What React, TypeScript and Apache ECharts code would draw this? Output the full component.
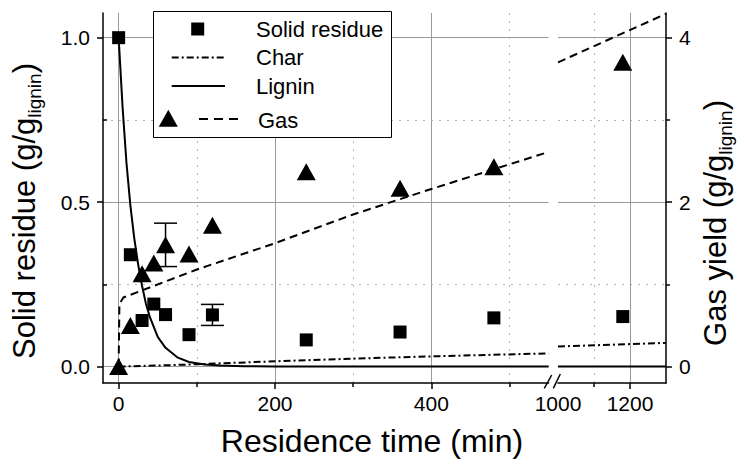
import React, { useEffect, useRef } from 'react';
import * as echarts from 'echarts';

// ---- measured points (residence time in min) ----
const sampleTimes = [0, 15, 30, 45, 60, 90, 120, 240, 360, 480];
const residueValues = [1.0, 0.34, 0.14, 0.19, 0.158, 0.097, 0.157, 0.081, 0.105, 0.148];
const gasValues = [0, 0.5, 1.13, 1.26, 1.48, 1.37, 1.72, 2.37, 2.17, 2.43];
const lateTimes = [1180];
const lateResidue = [0.152];
const lateGas = [3.7];

// ---- error bars ----
const residueErrTimes = [120];
const residueErrCenters = [0.157];
const residueErrs = [0.032];
const gasErrTimes = [60];
const gasErrCenters = [1.48];
const gasErrs = [0.264];

// ---- model curves ----
const ligninTimes = [0, 5, 10, 15, 20, 25, 30, 35, 40, 50, 60, 75, 90, 110, 130, 160, 200, 300, 550];
const ligninValues = [1.0, 0.79, 0.62, 0.49, 0.39, 0.31, 0.245, 0.19, 0.15, 0.09, 0.057, 0.028, 0.014, 0.006, 0.003, 0.001, 0, 0, 0];
const ligninLateTimes = [1000, 1300];
const ligninLateValues = [0, 0];

const charTimes = [0, 50, 100, 200, 300, 400, 550];
const charValues = [0, 0.003, 0.007, 0.016, 0.024, 0.031, 0.04];
const charLateTimes = [1000, 1300];
const charLateValues = [0.061, 0.072];

const gasModelTimes = [0, 1, 6, 100, 200, 300, 400, 550];
const gasModelValues = [0, 0.76, 0.84, 1.18, 1.5, 1.85, 2.16, 2.61];
const gasModelLateTimes = [1000, 1300];
const gasModelLateValues = [3.7, 4.29];

// ---- ticks ----
const xMajorA = [0, 200, 400];
const xMinorA = [100, 300, 500];
const xLabelsB = [1000, 1200];
const xMajorB = [1200];
const xMinorB = [1100];
const yMajor = [0, 0.5, 1];
const yMinor = [0.25, 0.75];
const gasMajor = [0, 2, 4];
const gasMinor = [1, 3];

const FONT = 'Liberation Sans, Arial, Helvetica, sans-serif';
const GRID_SOLID = '#9a9a9a';
const GRID_DOT = '#b4b4b4';

const zip = (a: number[], b: number[]) => a.map((v, i) => [v, b[i]]);
const zip3 = (a: number[], b: number[], c: number[]) => a.map((v, i) => [v, b[i], c[i]]);

const hiddenAxis = (extra: any) => ({
  type: 'value',
  axisLine: { show: false, onZero: false },
  axisTick: { show: false },
  axisLabel: { show: false },
  splitLine: { show: false },
  ...extra,
});

const solidSplit = { show: true, lineStyle: { color: GRID_SOLID, width: 1 } };
const dotSplit = { show: true, lineStyle: { color: GRID_DOT, width: 1, type: [2, 6] } };
const axisLineStyle = { show: true, onZero: false, lineStyle: { color: '#000', width: 1.5 } };
const labelStyle = { color: '#000', fontSize: 21, fontFamily: FONT };

const errorBarRender = (params: any, api: any) => {
  const x = api.value(0);
  const y = api.value(1);
  const e = api.value(2);
  const top = api.coord([x, y + e]);
  const bot = api.coord([x, y - e]);
  const hw = 11.5;
  const st = { stroke: '#000', lineWidth: 1.5 };
  return {
    type: 'group',
    children: [
      { type: 'line', shape: { x1: top[0], y1: top[1], x2: bot[0], y2: bot[1] }, style: st },
      { type: 'line', shape: { x1: top[0] - hw, y1: top[1], x2: top[0] + hw, y2: top[1] }, style: st },
      { type: 'line', shape: { x1: bot[0] - hw, y1: bot[1], x2: bot[0] + hw, y2: bot[1] }, style: st },
    ],
  };
};

export default function App() {
  const ref = useRef<HTMLDivElement>(null);

  useEffect(() => {
    if (!ref.current) return;
    const chart = echarts.init(ref.current, undefined, { renderer: 'svg' });

    const titleRich = {
      m: { fontSize: 31, fontFamily: FONT, fill: '#000', color: '#000' },
      s: { fontSize: 19, fontFamily: FONT, fill: '#000', color: '#000', padding: [20, 0, 0, 0] },
    };

    const option: any = {
      animation: false,
      backgroundColor: '#fff',
      grid: [
        { left: 103, top: 13, width: 445.6, height: 370, outerBoundsMode: 'none', containLabel: false },
        { left: 558, top: 13, width: 108, height: 370, outerBoundsMode: 'none', containLabel: false },
      ],
      xAxis: [
        {
          type: 'value', gridIndex: 0, min: -20, max: 550, position: 'bottom',
          axisLine: axisLineStyle,
          axisTick: { show: true, customValues: xMajorA, length: 6, lineStyle: { color: '#000', width: 1.5 } },
          axisLabel: { show: true, customValues: xMajorA, margin: 10, formatter: (v: number) => String(v), ...labelStyle },
          splitLine: solidSplit,
        },
        hiddenAxis({
          gridIndex: 0, min: -20, max: 550, position: 'bottom',
          axisTick: { show: true, customValues: xMinorA, length: 4, lineStyle: { color: '#000', width: 1.5 } },
          splitLine: dotSplit,
        }),
        {
          type: 'value', gridIndex: 1, min: 1000, max: 1300, position: 'bottom',
          axisLine: axisLineStyle,
          axisTick: { show: true, customValues: xMajorB, length: 6, lineStyle: { color: '#000', width: 1.5 } },
          axisLabel: { show: true, customValues: xLabelsB, margin: 10, formatter: (v: number) => String(v), ...labelStyle },
          splitLine: solidSplit,
        },
        hiddenAxis({
          gridIndex: 1, min: 1000, max: 1300, position: 'bottom',
          axisTick: { show: true, customValues: xMinorB, length: 4, lineStyle: { color: '#000', width: 1.5 } },
          splitLine: dotSplit,
        }),
      ],
      yAxis: [
        {
          type: 'value', gridIndex: 0, min: -0.05, max: 1.075, position: 'left',
          axisLine: axisLineStyle,
          axisTick: { show: true, customValues: yMajor, length: 6, lineStyle: { color: '#000', width: 1.5 } },
          axisLabel: { show: true, customValues: yMajor, margin: 13, formatter: (v: number) => v.toFixed(1), ...labelStyle },
          splitLine: solidSplit,
        },
        hiddenAxis({
          gridIndex: 0, min: -0.05, max: 1.075, position: 'left',
          axisTick: { show: true, inside: true, customValues: yMinor, length: 4, lineStyle: { color: '#000', width: 1.5 } },
          splitLine: dotSplit,
        }),
        hiddenAxis({ gridIndex: 0, min: -0.2, max: 4.3, position: 'right' }),
        hiddenAxis({
          gridIndex: 1, min: -0.05, max: 1.075, position: 'left',
          axisTick: { show: false, customValues: yMajor },
          splitLine: solidSplit,
        }),
        hiddenAxis({
          gridIndex: 1, min: -0.05, max: 1.075, position: 'left',
          axisTick: { show: false, customValues: yMinor },
          splitLine: dotSplit,
        }),
        {
          type: 'value', gridIndex: 1, min: -0.2, max: 4.3, position: 'right',
          axisLine: axisLineStyle,
          axisTick: { show: true, customValues: gasMajor, length: 6, lineStyle: { color: '#000', width: 1.5 } },
          axisLabel: { show: true, customValues: gasMajor, margin: 13, ...labelStyle },
          splitLine: { show: false },
        },
        hiddenAxis({
          gridIndex: 1, min: -0.2, max: 4.3, position: 'right',
          axisTick: { show: true, customValues: gasMinor, length: 4, lineStyle: { color: '#000', width: 1.5 } },
        }),
      ],
      series: [
        {
          type: 'custom', name: 'residue error', xAxisIndex: 0, yAxisIndex: 0, z: 3,
          renderItem: errorBarRender, encode: { x: 0, y: 1 },
          data: zip3(residueErrTimes, residueErrCenters, residueErrs),
        },
        {
          type: 'custom', name: 'gas error', xAxisIndex: 0, yAxisIndex: 2, z: 3,
          renderItem: errorBarRender, encode: { x: 0, y: 1 },
          data: zip3(gasErrTimes, gasErrCenters, gasErrs),
        },
        {
          type: 'line', name: 'Lignin', xAxisIndex: 0, yAxisIndex: 0, symbol: 'none', z: 4,
          lineStyle: { color: '#000', width: 2 }, data: zip(ligninTimes, ligninValues),
        },
        {
          type: 'line', name: 'Lignin', xAxisIndex: 2, yAxisIndex: 3, symbol: 'none', z: 4,
          lineStyle: { color: '#000', width: 2 }, data: zip(ligninLateTimes, ligninLateValues),
        },
        {
          type: 'line', name: 'Char', xAxisIndex: 0, yAxisIndex: 0, symbol: 'none', z: 4,
          lineStyle: { color: '#000', width: 2, type: [7, 3, 2, 3] }, data: zip(charTimes, charValues),
        },
        {
          type: 'line', name: 'Char', xAxisIndex: 2, yAxisIndex: 3, symbol: 'none', z: 4,
          lineStyle: { color: '#000', width: 2, type: [7, 3, 2, 3] }, data: zip(charLateTimes, charLateValues),
        },
        {
          type: 'line', name: 'Gas', xAxisIndex: 0, yAxisIndex: 2, symbol: 'none', z: 4,
          lineStyle: { color: '#000', width: 2, type: [8, 5] }, data: zip(gasModelTimes, gasModelValues),
        },
        {
          type: 'line', name: 'Gas', xAxisIndex: 2, yAxisIndex: 5, symbol: 'none', z: 4,
          lineStyle: { color: '#000', width: 2, type: [8, 5] }, data: zip(gasModelLateTimes, gasModelLateValues),
        },
        {
          type: 'scatter', name: 'Solid residue', xAxisIndex: 0, yAxisIndex: 0, symbol: 'rect', symbolSize: 13, z: 5,
          itemStyle: { color: '#000', opacity: 1 }, data: zip(sampleTimes, residueValues),
        },
        {
          type: 'scatter', name: 'Solid residue', xAxisIndex: 2, yAxisIndex: 3, symbol: 'rect', symbolSize: 13, z: 5,
          itemStyle: { color: '#000', opacity: 1 }, data: zip(lateTimes, lateResidue),
        },
        {
          type: 'scatter', name: 'Gas points', xAxisIndex: 0, yAxisIndex: 2, symbol: 'triangle', symbolSize: [19, 17], z: 5,
          itemStyle: { color: '#000', opacity: 1 }, data: zip(sampleTimes, gasValues),
        },
        {
          type: 'scatter', name: 'Gas points', xAxisIndex: 2, yAxisIndex: 5, symbol: 'triangle', symbolSize: [19, 17], z: 5,
          itemStyle: { color: '#000', opacity: 1 }, data: zip(lateTimes, lateGas),
        },
      ],
      graphic: [
        // axis break marks
        { type: 'line', z: 100, shape: { x1: 544.3, y1: 388.3, x2: 551.7, y2: 375 }, style: { stroke: '#000', lineWidth: 1.5 } },
        { type: 'line', z: 100, shape: { x1: 553.3, y1: 388.3, x2: 560.3, y2: 374 }, style: { stroke: '#000', lineWidth: 1.5 } },
        // axis titles
        {
          type: 'text', z: 100, x: 372, y: 441,
          style: { text: 'Residence time (min)', fontSize: 32, fontFamily: FONT, fill: '#000', align: 'center', verticalAlign: 'middle', textAlign: 'center', textVerticalAlign: 'middle' },
        },
        {
          type: 'text', z: 100, x: 24.5, y: 211, rotation: Math.PI / 2,
          style: {
            text: '{m|Solid residue (g/g}{s|lignin}{m|)}', rich: titleRich,
            align: 'center', verticalAlign: 'middle', textAlign: 'center', textVerticalAlign: 'middle',
          },
        },
        {
          type: 'text', z: 100, x: 715, y: 223, rotation: Math.PI / 2,
          style: {
            text: '{m|Gas yield (g/g}{s|lignin}{m|)}', rich: titleRich,
            align: 'center', verticalAlign: 'middle', textAlign: 'center', textVerticalAlign: 'middle',
          },
        },
        // legend
        { type: 'rect', z: 100, shape: { x: 153.5, y: 11.5, width: 238, height: 126 }, style: { fill: '#fff', stroke: '#000', lineWidth: 1 } },
        { type: 'rect', z: 101, shape: { x: 191.2, y: 22.5, width: 13, height: 13 }, style: { fill: '#000' } },
        { type: 'text', z: 101, x: 256, y: 29, style: { text: 'Solid residue', fontSize: 22, fontFamily: FONT, fill: '#000', verticalAlign: 'middle', textVerticalAlign: 'middle' } },
        { type: 'line', z: 101, shape: { x1: 171.7, y1: 57.5, x2: 225, y2: 57.5 }, style: { stroke: '#000', lineWidth: 2, lineDash: [7, 3, 2, 3] } },
        { type: 'text', z: 101, x: 256, y: 57.5, style: { text: 'Char', fontSize: 22, fontFamily: FONT, fill: '#000', verticalAlign: 'middle', textVerticalAlign: 'middle' } },
        { type: 'line', z: 101, shape: { x1: 171.7, y1: 86, x2: 225, y2: 86 }, style: { stroke: '#000', lineWidth: 2 } },
        { type: 'text', z: 101, x: 256, y: 86, style: { text: 'Lignin', fontSize: 22, fontFamily: FONT, fill: '#000', verticalAlign: 'middle', textVerticalAlign: 'middle' } },
        { type: 'polygon', z: 101, shape: { points: [[158.8, 126.8], [177.8, 126.8], [168.3, 109.8]] }, style: { fill: '#000' } },
        { type: 'line', z: 101, shape: { x1: 199, y1: 119, x2: 244, y2: 119 }, style: { stroke: '#000', lineWidth: 2, lineDash: [9, 6] } },
        { type: 'text', z: 101, x: 258, y: 120, style: { text: 'Gas', fontSize: 22, fontFamily: FONT, fill: '#000', verticalAlign: 'middle', textVerticalAlign: 'middle' } },
      ],
    };

    chart.setOption(option);
    return () => chart.dispose();
  }, []);

  return (
    <div
      ref={ref}
      style={{ position: 'fixed', left: 0, top: 0, width: 744, height: 467, background: '#fff' }}
    />
  );
}
